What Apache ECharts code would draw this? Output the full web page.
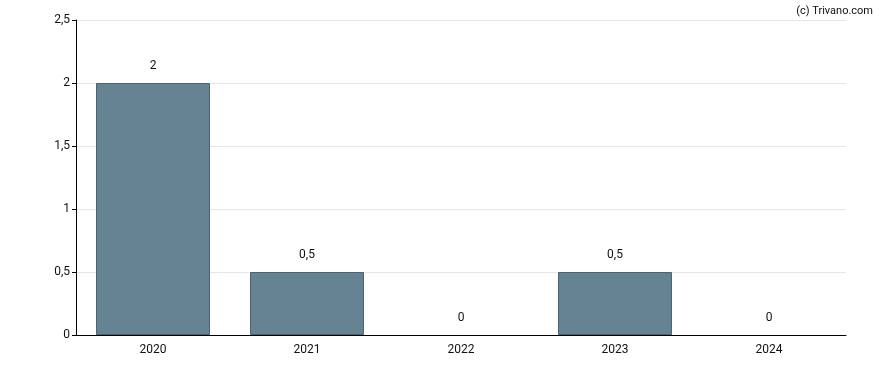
<!DOCTYPE html>
<html><head><meta charset="utf-8">
<script src="https://cdn.jsdelivr.net/npm/echarts@6/dist/echarts.min.js"></script>
<style>html,body{margin:0;padding:0;background:#fff}#c{width:888px;height:370px}</style>
</head><body><div id="c"></div>
<script>
var categories = ['2020','2021','2022','2023','2024'];
var values = [2, 0.5, 0, 0.5, 0];
var yTicks = [0, 0.5, 1, 1.5, 2, 2.5];
function fmt(v){ return String(v).replace('.', ','); }
var chart = echarts.init(document.getElementById('c'), null, {renderer:'canvas'});
chart.setOption({
  animation:false,
  backgroundColor:'#fff',
  textStyle:{fontFamily:'Roboto'},
  title:{text:'(c) Trivano.com', right:10, top:1, textStyle:{fontSize:11, fontWeight:'normal', color:'#111', fontFamily:'Roboto'}},
  grid:{left:76, right:42, top:20, bottom:35, containLabel:false},
  xAxis:{type:'category', data:categories,
    axisLine:{lineStyle:{color:'#000', width:1}},
    axisTick:{alignWithLabel:true, length:5, lineStyle:{color:'#000'}},
    axisLabel:{color:'#111', fontSize:12, margin:9, fontFamily:'Roboto'}},
  yAxis:{type:'value', min:yTicks[0], max:yTicks[yTicks.length-1], interval:0.5,
    axisLine:{show:true, lineStyle:{color:'#000', width:1}},
    axisTick:{show:true, length:4, lineStyle:{color:'#000'}},
    splitLine:{lineStyle:{color:'#e6e6e6', width:1}},
    axisLabel:{color:'#111', fontSize:12, margin:6, fontFamily:'Roboto', formatter:function(v){return fmt(v);}}},
  series:[{type:'bar', barWidth:'74%',
    data: values.map(function(v){ return {value:v, itemStyle:{borderWidth: v === 0 ? 0 : 1}}; }),
    itemStyle:{color:'#668394', borderColor:'#4a6274', borderWidth:1},
    label:{show:true, position:'top', distance:11, color:'#111', fontSize:12, fontFamily:'Roboto', formatter:function(p){return fmt(p.value);}}}]
});
</script></body></html>
